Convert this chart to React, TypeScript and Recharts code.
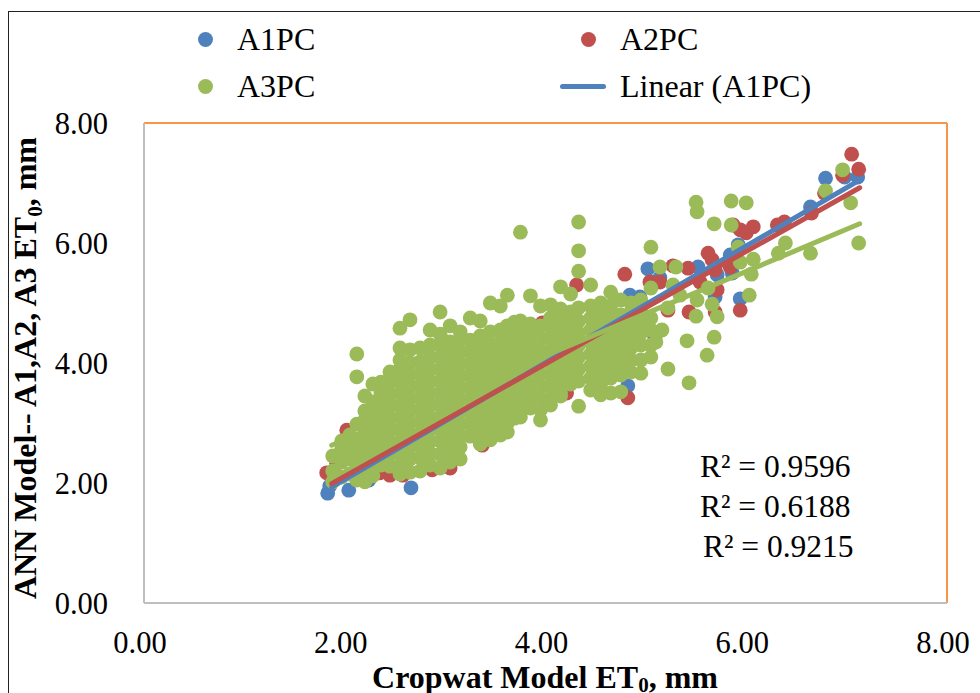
import {
  ScatterChart, Scatter, XAxis, YAxis, ReferenceLine, Legend, Label,
} from 'recharts'

const FONT = '"Liberation Serif", "Times New Roman", serif'
const BLUE = '#4f81bd'
const RED = '#c0504d'
const GREEN = '#9bbb59'
const ORANGE = '#f79646'
const GREY = '#bfbfbf'

const ticks = [0, 2, 4, 6, 8]
const r2Labels = ['R² = 0.9596', 'R² = 0.6188', 'R² = 0.9215']

const a1pc = [
  [1.83, 1.83], [1.85, 1.95], [2.04, 1.88], [2.24, 2.05], [2.66, 1.92], [4.82, 3.62],
  [4.84, 5.13], [4.94, 5.1], [5.02, 5.57], [5.09, 4.43], [5.14, 5.42], [5.52, 5.6],
  [5.69, 5.1], [5.71, 5.47], [5.84, 5.8], [5.86, 5.5], [5.92, 5.97], [5.94, 5.07],
  [6.64, 6.6], [6.79, 7.08], [6.98, 7.1], [7.11, 7.1],
]

const a2pc = [
  [1.82, 2.17], [1.92, 2.33], [2.02, 2.88], [2.35, 2.17], [2.45, 2.13], [2.58, 2.13],
  [2.87, 2.22], [3.05, 2.25], [3.12, 2.68], [3.37, 2.63], [3.52, 2.97], [3.97, 4.67],
  [4.21, 3.5], [4.27, 4.67], [4.31, 5.3], [4.54, 3.68], [4.79, 5.48], [4.82, 3.42],
  [5.04, 5.35], [5.07, 4.52], [5.14, 5.35], [5.22, 4.88], [5.27, 5.62], [5.42, 5.58],
  [5.43, 4.85], [5.54, 5.35], [5.62, 5.83], [5.66, 5.72], [5.69, 5.55], [5.69, 4.85],
  [5.71, 5.22], [5.84, 5.6], [5.87, 6.3], [5.94, 6.22], [5.94, 4.88], [6.0, 6.17],
  [6.07, 6.27], [6.31, 6.3], [6.38, 6.35], [6.65, 6.5], [6.78, 6.83], [6.96, 7.13],
  [7.05, 7.48], [7.12, 7.23],
]

const a3Columns: [number, number[]][] = [
  [1.88, [2.02, 2.2, 2.45]],
  [1.97, [2.1, 2.35, 2.58, 2.7]],
  [2.05, [2.15, 2.4, 2.6, 2.8]],
  [2.12, [2.05, 2.3, 2.5, 2.72, 2.98, 3.77, 4.15]],
  [2.2, [2.02, 2.22, 2.45, 2.65, 2.85, 3.05, 3.2, 3.45]],
  [2.28, [2.12, 2.35, 2.55, 2.75, 2.95, 3.15, 3.35, 3.65]],
  [2.36, [2.3, 2.5, 2.7, 2.9, 3.1, 3.3, 3.5, 3.68]],
  [2.45, [2.28, 2.48, 2.68, 2.88, 3.08, 3.28, 3.48, 3.68, 3.85]],
  [2.55, [2.15, 2.3, 2.5, 2.7, 2.9, 3.1, 3.3, 3.5, 3.7, 3.9, 4.05, 4.25, 4.58]],
  [2.65, [2.18, 2.4, 2.6, 2.8, 3.0, 3.2, 3.4, 3.6, 3.8, 4.0, 4.22, 4.72]],
  [2.75, [2.2, 2.42, 2.62, 2.82, 3.02, 3.22, 3.42, 3.62, 3.82, 4.02, 4.25]],
  [2.85, [2.3, 2.5, 2.7, 2.9, 3.1, 3.3, 3.5, 3.7, 3.9, 4.1, 4.3, 4.55]],
  [2.95, [2.25, 2.48, 2.7, 2.9, 3.1, 3.3, 3.5, 3.7, 3.9, 4.1, 4.3, 4.48, 4.85]],
  [3.05, [2.35, 2.55, 2.75, 2.95, 3.15, 3.35, 3.55, 3.75, 3.95, 4.15, 4.35, 4.62]],
  [3.15, [2.4, 2.6, 2.8, 3.0, 3.2, 3.4, 3.6, 3.8, 4.0, 4.2, 4.4, 4.52]],
  [3.25, [2.78, 2.98, 3.18, 3.38, 3.58, 3.78, 3.98, 4.18, 4.38, 4.75]],
  [3.35, [2.65, 2.85, 3.05, 3.25, 3.45, 3.65, 3.85, 4.05, 4.25, 4.45, 4.7]],
  [3.45, [2.72, 2.9, 3.1, 3.3, 3.5, 3.7, 3.9, 4.1, 4.3, 4.52, 5.0]],
  [3.55, [2.8, 2.95, 3.15, 3.35, 3.55, 3.75, 3.95, 4.15, 4.35, 4.55, 4.95]],
  [3.62, [2.85, 3.0, 3.2, 3.4, 3.6, 3.8, 4.0, 4.2, 4.4, 4.62, 5.13]],
  [3.69, [3.08, 3.28, 3.48, 3.68, 3.88, 4.08, 4.28, 4.48, 4.68]],
  [3.75, [3.1, 3.3, 3.5, 3.7, 3.9, 4.1, 4.3, 4.5, 4.7, 6.18]],
  [3.85, [3.25, 3.45, 3.65, 3.85, 4.05, 4.25, 4.45, 4.65, 5.12]],
  [3.95, [3.05, 3.22, 3.42, 3.62, 3.82, 4.02, 4.22, 4.42, 4.62, 4.95]],
  [4.05, [3.3, 3.4, 3.6, 3.8, 4.0, 4.2, 4.4, 4.6, 4.75, 4.97]],
  [4.15, [3.45, 3.5, 3.7, 3.9, 4.1, 4.3, 4.5, 4.7, 4.9, 5.27]],
  [4.25, [3.65, 3.85, 4.05, 4.25, 4.45, 4.65, 4.85, 5.15]],
  [4.33, [3.28, 3.7, 3.9, 4.1, 4.3, 4.5, 4.7, 4.92, 5.53, 5.87, 6.35]],
  [4.45, [3.55, 3.75, 3.95, 4.15, 4.35, 4.55, 4.75, 4.95, 5.3]],
  [4.55, [3.47, 3.65, 3.85, 4.05, 4.25, 4.45, 4.65, 4.85, 5.0]],
  [4.65, [3.5, 3.75, 3.95, 4.15, 4.35, 4.55, 4.75, 4.95, 5.18]],
  [4.75, [3.52, 3.8, 4.0, 4.2, 4.4, 4.6, 4.8, 5.05]],
  [4.85, [3.85, 4.05, 4.25, 4.45, 4.65, 4.85, 5.0]],
  [4.95, [3.83, 4.05, 4.3, 4.5, 4.7, 4.92, 5.05]],
  [5.05, [4.1, 4.3, 4.55, 4.75, 5.25, 5.93]],
]

const a3Sparse = [
  [5.1, 4.35], [5.14, 5.6], [5.16, 4.55], [5.22, 3.9], [5.22, 4.92], [5.27, 5.3], [5.3, 5.6],
  [5.34, 5.13], [5.41, 4.37], [5.43, 3.67], [5.5, 6.68], [5.5, 4.78], [5.51, 6.52],
  [5.51, 5.05], [5.61, 4.13], [5.62, 5.25], [5.66, 4.98], [5.68, 6.32], [5.68, 4.43],
  [5.71, 4.77], [5.85, 6.7], [5.85, 6.3], [5.92, 5.93], [5.94, 5.68], [6.0, 6.67],
  [6.03, 5.13], [6.05, 5.48], [6.07, 5.73], [6.32, 5.83], [6.39, 6.0], [6.64, 5.83],
  [6.79, 6.87], [6.96, 7.22], [7.04, 6.67], [7.12, 6.0],
]

const trendA1 = [[1.87, 1.93], [7.15, 7.07]]
const trendA2 = [[1.87, 1.99], [7.13, 6.92]]
const trendA3 = [[1.87, 2.63], [7.13, 6.32]]

const toPoints = (rows: number[][]) => rows.map(([x, y]) => ({ x, y }))
const a3Points = [
  ...a3Columns.flatMap(([x, ys]) => ys.map((y) => ({ x, y }))),
  ...toPoints(a3Sparse),
]

const legendItems = [
  { name: 'A1PC', color: BLUE, line: false },
  { name: 'A2PC', color: RED, line: false },
  { name: 'A3PC', color: GREEN, line: false },
  { name: 'Linear (A1PC)', color: BLUE, line: true },
]

const noDot = () => <g />
const bigDot = (p: any) => <circle cx={p.cx} cy={p.cy} r={7.4} fill={p.fill} />

const LegendBox = () => (
  <div style={{ display: 'grid', gridTemplateColumns: '383px 383px', gridAutoRows: '47px', fontFamily: FONT, fontSize: 32, color: '#000' }}>
    {legendItems.map((it) => (
      <div key={it.name} style={{ position: 'relative', lineHeight: '47px', paddingLeft: 50, whiteSpace: 'nowrap', textAlign: 'left' }}>
        {it.line ? (
          <span style={{ position: 'absolute', left: -10, top: 21, width: 46, height: 5, borderRadius: 3, background: it.color }} />
        ) : (
          <span style={{ position: 'absolute', left: 11, top: 16, width: 15, height: 15, borderRadius: '50%', background: it.color }} />
        )}
        {it.name}
      </div>
    ))}
  </div>
)

const YTitle = () => (
  <text
    transform="translate(36,368) rotate(-90)"
    textAnchor="middle"
    style={{ fontFamily: FONT, fontSize: 32, fontWeight: 700, fill: '#000' }}
  >
    ANN Model-- A1,A2, A3 ET<tspan dy={6} fontSize={21}>0</tspan><tspan dy={-6}>, mm</tspan>
  </text>
)

const XTitle = () => (
  <text
    x={545}
    y={688}
    textAnchor="middle"
    style={{ fontFamily: FONT, fontSize: 32, fontWeight: 700, fill: '#000' }}
  >
    Cropwat Model ET<tspan dy={4} fontSize={21}>0</tspan><tspan dy={-4}>, mm</tspan>
  </text>
)

const tickStyle = { fontFamily: FONT, fontSize: 30.5, fill: '#000' }

export default function App() {
  return (
    <div style={{ position: 'absolute', left: 0, top: 0, width: 980, height: 693, overflow: 'hidden', background: '#fff' }}>
      <div style={{ position: 'absolute', left: 8, top: 11, right: 0, bottom: 0, borderLeft: '1px solid #222', borderTop: '1px solid #222' }} />
      <ScatterChart
        width={980}
        height={693}
        margin={{ top: 123, right: 33, bottom: 0, left: 0 }}
        style={{ position: 'absolute', left: 0, top: 0 }}
      >
        <XAxis
          type="number"
          dataKey="x"
          domain={[0, 8]}
          ticks={ticks}
          tickFormatter={(v: number) => v.toFixed(2)}
          tick={{ ...tickStyle, dx: -4 }}
          tickLine={false}
          tickMargin={22}
          axisLine={{ stroke: GREY, strokeWidth: 2 }}
          height={90}
          interval={0}
        >
          <Label content={<XTitle />} />
        </XAxis>
        <YAxis
          type="number"
          dataKey="y"
          domain={[0, 8]}
          ticks={ticks}
          tickFormatter={(v: number) => v.toFixed(2)}
          tick={tickStyle}
          tickLine={false}
          tickMargin={30}
          axisLine={{ stroke: GREY, strokeWidth: 2 }}
          width={144}
          interval={0}
        >
          <Label content={<YTitle />} />
        </YAxis>
        <ReferenceLine y={8} stroke={ORANGE} strokeWidth={2} />
        <ReferenceLine x={8} stroke={ORANGE} strokeWidth={2} />
        <Legend
          layout="horizontal"
          verticalAlign="middle"
          align="center"
          content={<LegendBox />}
          wrapperStyle={{ left: 187, top: 16, width: 770 }}
        />
        <Scatter name="A1PC" data={toPoints(a1pc)} fill={BLUE} shape={bigDot} isAnimationActive={false} />
        <Scatter name="A2PC" data={toPoints(a2pc)} fill={RED} shape={bigDot} isAnimationActive={false} />
        <Scatter name="A3PC" data={a3Points} fill={GREEN} shape={bigDot} isAnimationActive={false} />
        <Scatter name="Linear (A1PC)" data={toPoints(trendA1)} shape={noDot} line={{ stroke: BLUE, strokeWidth: 5, strokeLinecap: 'round' }} isAnimationActive={false} />
        <Scatter name="Linear (A2PC)" data={toPoints(trendA2)} shape={noDot} line={{ stroke: RED, strokeWidth: 5, strokeLinecap: 'round' }} isAnimationActive={false} />
        <Scatter name="Linear (A3PC)" data={toPoints(trendA3)} shape={noDot} line={{ stroke: GREEN, strokeWidth: 5, strokeLinecap: 'round' }} isAnimationActive={false} />
      </ScatterChart>
      {r2Labels.map((t, i) => (
        <div
          key={t}
          style={{ position: 'absolute', left: i === 2 ? 703 : 700, top: 447 + i * 40, fontFamily: FONT, fontSize: 31.5, lineHeight: '40px', color: '#000', whiteSpace: 'nowrap' }}
        >
          {t}
        </div>
      ))}
    </div>
  )
}
